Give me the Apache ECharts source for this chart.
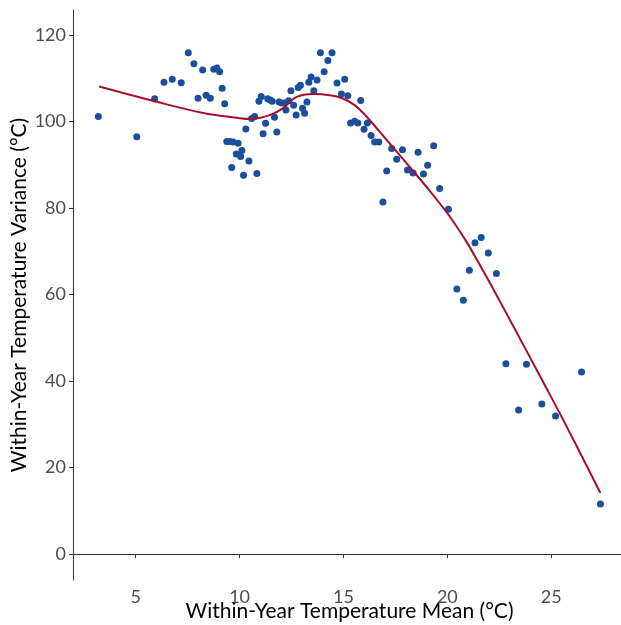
<!DOCTYPE html>
<html>
<head>
<meta charset="utf-8">
<script src="https://cdn.jsdelivr.net/npm/echarts@6/dist/echarts.min.js"></script>
<style>
  html, body { margin: 0; padding: 0; background: #fff; }
  #chart { width: 621px; height: 625px; }
</style>
</head>
<body>
<div id="chart"></div>
<script>
// temperature mean (x) and variance (y) of each site
const meanX = [
  3.20, 5.05, 5.91, 6.36, 6.76, 7.19, 7.53, 7.80, 8.22, 8.00,
  8.39, 8.59, 8.76, 8.91, 9.04, 9.16, 9.28, 9.38, 9.53, 9.69,
  9.93, 9.84, 10.05, 10.11, 9.62, 10.45, 10.19, 10.83, 10.30, 10.58,
  10.72, 11.13, 11.25, 10.93, 11.04, 11.35, 11.47, 11.57, 11.68, 11.79,
  11.90, 12.03, 12.14, 12.23, 12.36, 12.47, 12.60, 12.72, 12.82, 12.93,
  13.03, 13.13, 13.24, 13.33, 13.44, 13.57, 13.73, 13.89, 14.07, 14.25,
  14.45, 14.69, 14.90, 15.06, 15.21, 15.34, 15.54, 15.69, 15.83, 15.99,
  16.15, 16.33, 16.50, 16.70, 17.32, 17.56, 17.84, 18.08, 18.35, 18.59,
  18.85, 19.05, 17.08, 16.90, 19.34, 19.63, 20.05, 21.33, 21.63, 21.97,
  21.06, 22.36, 20.46, 20.77, 22.82, 23.81, 26.46, 23.43, 24.55, 25.21,
  27.37
];
const varianceY = [
  101.2, 96.5, 105.3, 109.1, 109.8, 109.0, 115.9, 113.4, 111.9, 105.4,
  106.1, 105.4, 112.1, 112.4, 111.5, 107.7, 104.1, 95.4, 95.4, 95.3,
  95.0, 92.5, 91.9, 93.3, 89.4, 90.9, 87.6, 88.0, 98.3, 100.7,
  101.2, 97.2, 99.6, 104.7, 105.8, 105.3, 105.0, 104.7, 101.0, 97.6,
  104.5, 104.3, 104.3, 102.7, 104.8, 107.1, 103.8, 101.5, 107.9, 108.4,
  103.1, 101.9, 104.5, 109.1, 110.3, 107.1, 109.6, 115.9, 111.5, 114.1,
  115.9, 108.9, 106.4, 109.8, 106.0, 99.7, 100.1, 99.7, 104.9, 98.2,
  99.7, 96.8, 95.3, 95.3, 93.8, 91.3, 93.5, 88.8, 88.1, 92.9,
  87.9, 89.9, 88.6, 81.4, 94.4, 84.5, 79.7, 72.0, 73.2, 69.6,
  65.6, 64.9, 61.3, 58.7, 44.0, 43.9, 42.1, 33.3, 34.7, 31.9,
  11.6
];

// smoothed fit
const fitX = [
  3.24, 5.91, 8.25, 9.86, 10.50, 11.46, 12.10, 12.74, 13.54, 14.34,
  14.94, 15.54, 16.14, 16.75, 17.55, 18.35, 19.15, 19.65, 20.11, 20.91,
  21.71, 22.51, 23.80, 24.60, 25.72, 27.37
];
const fitY = [
  108.1, 104.7, 102.0, 100.9, 100.6, 101.5, 103.1, 105.7, 106.4, 106.1,
  105.4, 103.8, 101.0, 97.6, 93.1, 88.6, 84.0, 81.0, 78.1, 72.3,
  65.6, 58.6, 47.1, 39.9, 29.7, 14.1
];

const xTicks = [5, 10, 15, 20, 25];
const yTicks = [0, 20, 40, 60, 80, 100, 120];

const chart = echarts.init(document.getElementById("chart"));

const axisCommon = {
  axisLine: { show: true, lineStyle: { color: "#333333", width: 1 } },
  axisTick: { show: true, length: 4, lineStyle: { color: "#333333" } },
  splitLine: { show: false },
  nameLocation: "middle",
  nameMoveOverlap: false,
  nameTextStyle: { color: "#000000", fontSize: 21, fontFamily: "Lato" },
};

const option = {
  animation: false,
  backgroundColor: "#ffffff",
  grid: {
    left: 73, right: -5, top: 10, bottom: 45,
    containLabel: false,
    outerBoundsMode: "none",
  },
  xAxis: {
    ...axisCommon,
    type: "value",
    min: 1.98,
    max: 28.6,
    name: "Within-Year Temperature Mean (°C)",
    nameGap: 21,
    axisTick: { ...axisCommon.axisTick, customValues: xTicks },
    axisLabel: {
      customValues: xTicks,
      color: "#4d4d4d",
      fontSize: 18,
      fontFamily: "Lato",
      margin: 8,
    },
  },
  yAxis: {
    ...axisCommon,
    type: "value",
    min: -6,
    max: 125.8,
    name: "Within-Year Temperature Variance (°C)",
    nameGap: 43,
    axisTick: { ...axisCommon.axisTick, customValues: yTicks },
    axisLabel: {
      customValues: yTicks,
      color: "#4d4d4d",
      fontSize: 18,
      fontFamily: "Lato",
      margin: 7,
    },
  },
  series: [
    {
      type: "scatter",
      data: meanX.map((v, i) => [v, varianceY[i]]),
      symbolSize: 7,
      itemStyle: { color: "#1b4f9c", opacity: 1 },
      z: 2,
    },
    {
      type: "line",
      data: fitX.map((v, i) => [v, fitY[i]]),
      smooth: 0.4,
      showSymbol: false,
      lineStyle: { color: "#a50f2d", width: 2 },
      z: 3,
    },
  ],
};

chart.setOption(option);
</script>
</body>
</html>
